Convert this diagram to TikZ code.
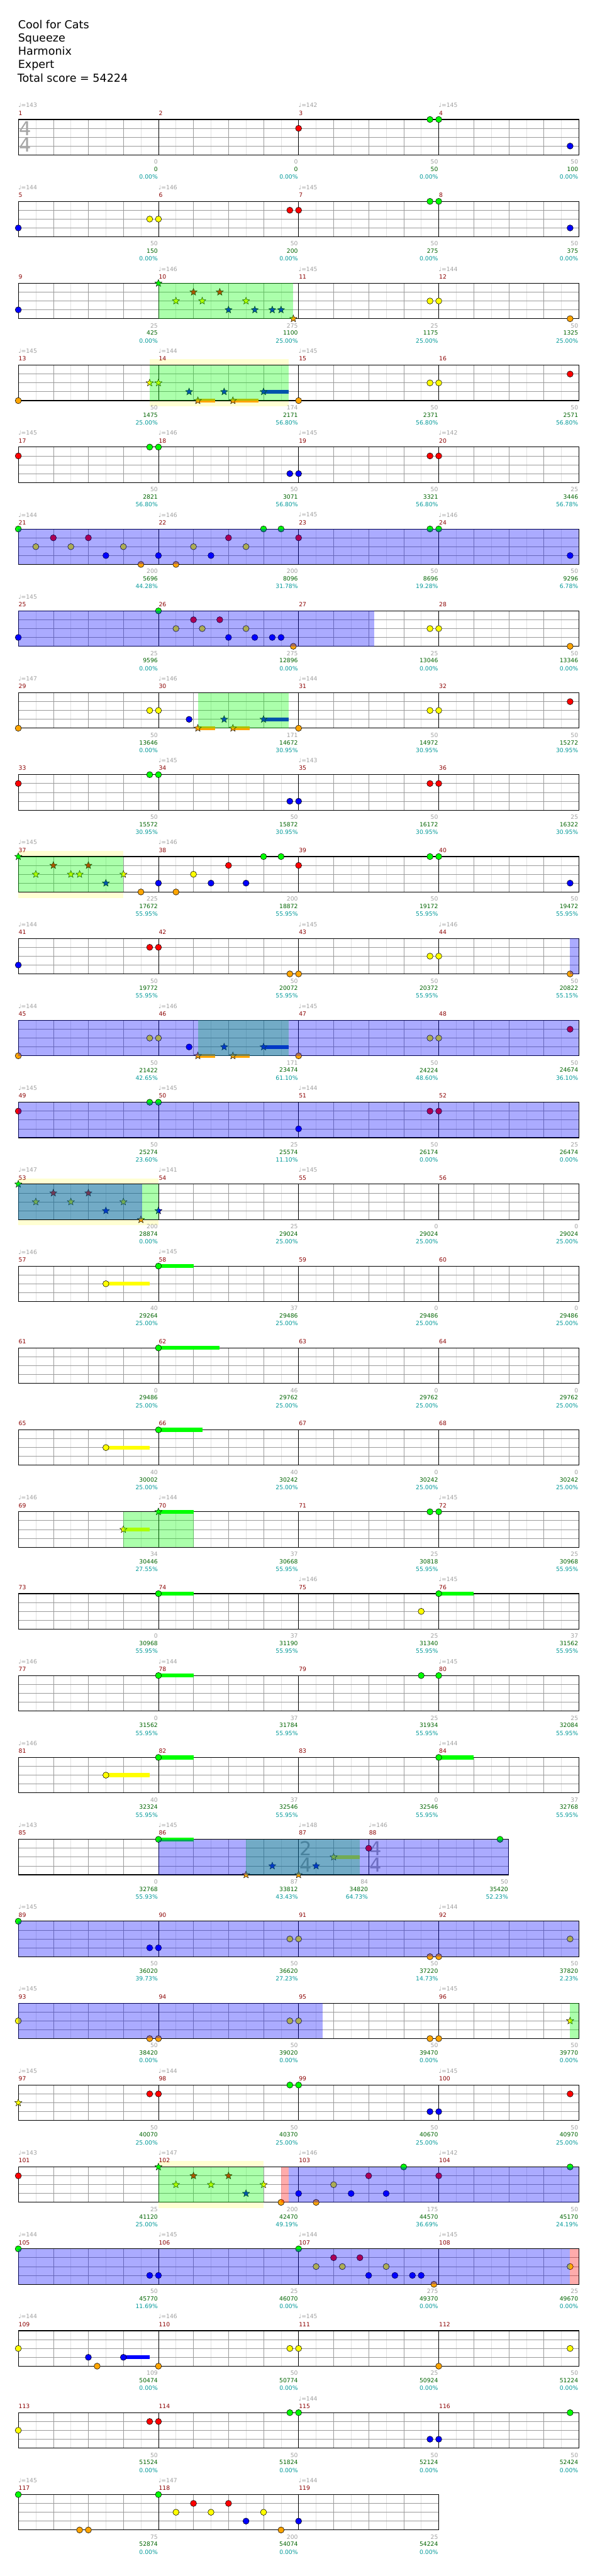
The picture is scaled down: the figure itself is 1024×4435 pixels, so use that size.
\documentclass[tikz,border=0pt]{standalone}
\usepackage{fontspec}
\setmainfont{DejaVu Sans}
\usetikzlibrary{shapes.geometric}
\definecolor{cG}{RGB}{0,255,0}
\definecolor{cR}{RGB}{255,0,0}
\definecolor{cY}{RGB}{255,255,0}
\definecolor{cB}{RGB}{0,0,255}
\definecolor{cO}{RGB}{255,165,0}
\definecolor{gridlt}{RGB}{225,225,225}
\definecolor{griddk}{RGB}{155,155,155}
\definecolor{mnumc}{RGB}{139,0,0}
\definecolor{tempoc}{RGB}{160,160,160}
\definecolor{ptsc}{RGB}{160,160,160}
\definecolor{totc}{RGB}{0,100,0}
\definecolor{pctc}{RGB}{0,153,153}
\definecolor{ybg}{RGB}{255,255,210}
\definecolor{tsc}{RGB}{165,165,165}
\tikzset{
 ntst/.style={draw=black,line width=0.6pt},
 stst/.style={star,star points=5,star point ratio=2.3,minimum size=13pt,inner sep=0pt,draw=black,line width=0.5pt},
 small/.style={font=\fontsize{10}{12}\selectfont,inner sep=0pt},
 hdr/.style={font=\fontsize{19}{22}\selectfont,inner sep=0pt,anchor=base west},
 tsf/.style={font=\fontsize{33}{33}\selectfont,text=tsc,inner sep=0pt},
}
\newcommand\ghN[3]{\draw[ntst,fill=#3] (#1,#2) circle[radius=5.3pt];}
\newcommand\ghS[3]{\node[stst,fill=#3] at (#1,#2) {};}
\newcommand\ghU[4]{\draw[line width=6.8pt,#4] (#1,#3) -- (#2,#3);}
\newcommand\ghGr[2]{\fill[cG,opacity=0.33] (#1,0) rectangle (#2,4);}
\newcommand\ghBl[2]{\fill[cB,opacity=0.33] (#1,0) rectangle (#2,4);}
\newcommand\ghPk[2]{\fill[cR,opacity=0.33] (#1,0) rectangle (#2,4);}
\newcommand\ghYb[2]{\fill[ybg] (#1,-0.656) rectangle (#2,4.656);}
\newcommand\ghStaff[1]{%
 \fill[white] (0,0) rectangle (#1,4);
 \pgfmathtruncatemacro\ghL{#1-1}%
 \foreach \i in {2,6,...,\ghL} \draw[gridlt,line width=0.6pt] (\i,0) -- (\i,4);
 \foreach \i in {4,8,...,\ghL} \draw[griddk,line width=0.6pt] (\i,0) -- (\i,4);
 \foreach \j in {1,2,3} \draw[griddk,line width=0.9pt] (0,\j) -- (#1,\j);
 \draw[black,line width=1.2pt] (0,0) rectangle (#1,4);}
\newcommand\ghM[3]{%
 \draw[black,line width=0.6pt] (#1,0) -- (#1,4);
 \node[small,text=mnumc,anchor=west,xshift=0.5pt] at (#1,-0.72) {#2};
 \if\relax\detokenize{#3}\relax\else
 \node[small,text=tempoc,anchor=west] at (#1,-1.593) {♩=#3};\fi}
\newcommand\ghT[4]{%
 \node[small,text=ptsc,anchor=east,xshift=-1pt] at (#1,4.787) {#2};
 \node[small,text=totc,anchor=east,xshift=-1pt] at (#1,5.62) {#3};
 \node[small,text=pctc,anchor=east,xshift=-1pt] at (#1,6.49) {#4};}
\newcommand\ghTS[3]{\node[tsf] at (#1+0.83,1.05) {#2}; \node[tsf] at (#1+0.83,2.9) {#3};}
\newcommand\ghRow[2]{%
 \pgfmathsetmacro\ghTT{205.7+141*(#1-1)}%
 \begin{scope}[shift={(31.5pt,-\ghTT pt)},x=15.078pt,y=-15.25pt]
 #2
 \end{scope}}
\begin{document}
\begin{tikzpicture}[x=1pt,y=-1pt]
\useasboundingbox (0,0) rectangle (1024,4435);
\fill[white] (0,0) rectangle (1024,4435);
\node[hdr] (h1) at (31,49) {Cool for Cats};
\node[hdr] (h2) at (31,72) {Squeeze};
\node[hdr] (h3) at (31,95) {Harmonix};
\node[hdr] (h4) at (31,118) {Expert};
\node[hdr] (h5) at (30,141) {Total score = 54224};
% row 1
\ghRow{1}{\ghStaff{64}\ghM{0}{1}{143}\ghM{16}{2}{}\ghM{32}{3}{142}\ghM{48}{4}{145}\ghTS{0}{4}{4}
\ghN{32}{1}{cR}\ghN{47}{0}{cG}\ghN{48}{0}{cG}\ghN{63}{3}{cB}
\ghT{16}{0}{0}{0.00\%}\ghT{32}{0}{0}{0.00\%}\ghT{48}{50}{50}{0.00\%}\ghT{64}{50}{100}{0.00\%}}
% row 2
\ghRow{2}{\ghStaff{64}\ghM{0}{5}{144}\ghM{16}{6}{146}\ghM{32}{7}{145}\ghM{48}{8}{}
\ghN{0}{3}{cB}\ghN{15}{2}{cY}\ghN{16}{2}{cY}\ghN{31}{1}{cR}\ghN{32}{1}{cR}\ghN{47}{0}{cG}\ghN{48}{0}{cG}\ghN{63}{3}{cB}
\ghT{16}{50}{150}{0.00\%}\ghT{32}{50}{200}{0.00\%}\ghT{48}{50}{275}{0.00\%}\ghT{64}{50}{375}{0.00\%}}
% row 3
\ghRow{3}{\ghStaff{64}\ghM{0}{9}{}\ghM{16}{10}{146}\ghM{32}{11}{145}\ghM{48}{12}{144}
\ghN{0}{3}{cB}\ghS{16}{0}{cG}\ghS{20}{1}{cR}\ghS{23}{1}{cR}\ghS{18}{2}{cY}\ghS{21}{2}{cY}\ghS{26}{2}{cY}
\ghS{24}{3}{cB}\ghS{27}{3}{cB}\ghS{29}{3}{cB}\ghS{30}{3}{cB}\ghS{31.4}{4}{cO}
\ghN{47}{2}{cY}\ghN{48}{2}{cY}\ghN{63}{4}{cO}
\ghGr{16}{31.4}
\ghT{16}{25}{425}{0.00\%}\ghT{32}{275}{1100}{25.00\%}\ghT{48}{25}{1175}{25.00\%}\ghT{64}{50}{1325}{25.00\%}}
% row 4
\ghRow{4}{\ghYb{15}{30.9}\ghStaff{64}\ghM{0}{13}{145}\ghM{16}{14}{144}\ghM{32}{15}{145}\ghM{48}{16}{}
\ghN{0}{4}{cO}\ghS{15}{2}{cY}\ghS{16}{2}{cY}\ghS{19.5}{3}{cB}\ghS{23.5}{3}{cB}
\ghU{28}{30.9}{3}{cB}\ghS{28}{3}{cB}\ghU{20.5}{22.5}{4}{cO}\ghS{20.5}{4}{cO}\ghU{24.5}{27.4}{4}{cO}\ghS{24.5}{4}{cO}
\ghN{32}{4}{cO}\ghN{47}{2}{cY}\ghN{48}{2}{cY}\ghN{63}{1}{cR}
\ghGr{15}{30.9}
\ghT{16}{50}{1475}{25.00\%}\ghT{32}{174}{2171}{56.80\%}\ghT{48}{50}{2371}{56.80\%}\ghT{64}{50}{2571}{56.80\%}}
% row 5
\ghRow{5}{\ghStaff{64}\ghM{0}{17}{145}\ghM{16}{18}{146}\ghM{32}{19}{145}\ghM{48}{20}{142}
\ghN{0}{1}{cR}\ghN{15}{0}{cG}\ghN{16}{0}{cG}\ghN{31}{3}{cB}\ghN{32}{3}{cB}\ghN{47}{1}{cR}\ghN{48}{1}{cR}
\ghT{16}{50}{2821}{56.80\%}\ghT{32}{50}{3071}{56.80\%}\ghT{48}{50}{3321}{56.80\%}\ghT{64}{25}{3446}{56.78\%}}
% row 6
\ghRow{6}{\ghStaff{64}\ghM{0}{21}{144}\ghM{16}{22}{146}\ghM{32}{23}{145}\ghM{48}{24}{146}
\ghN{0}{0}{cG}\ghN{4}{1}{cR}\ghN{8}{1}{cR}\ghN{24}{1}{cR}\ghN{32}{1}{cR}\ghN{2}{2}{cY}\ghN{6}{2}{cY}\ghN{12}{2}{cY}\ghN{20}{2}{cY}\ghN{26}{2}{cY}
\ghN{10}{3}{cB}\ghN{16}{3}{cB}\ghN{22}{3}{cB}\ghN{14}{4}{cO}\ghN{18}{4}{cO}\ghN{28}{0}{cG}\ghN{30}{0}{cG}\ghN{47}{0}{cG}\ghN{48}{0}{cG}\ghN{63}{3}{cB}
\ghBl{0}{64}
\ghT{16}{200}{5696}{44.28\%}\ghT{32}{200}{8096}{31.78\%}\ghT{48}{50}{8696}{19.28\%}\ghT{64}{50}{9296}{6.78\%}}
% row 7
\ghRow{7}{\ghStaff{64}\ghM{0}{25}{145}\ghM{16}{26}{}\ghM{32}{27}{}\ghM{48}{28}{}
\ghN{0}{3}{cB}\ghN{16}{0}{cG}\ghN{20}{1}{cR}\ghN{23}{1}{cR}\ghN{18}{2}{cY}\ghN{21}{2}{cY}\ghN{26}{2}{cY}
\ghN{24}{3}{cB}\ghN{27}{3}{cB}\ghN{29}{3}{cB}\ghN{30}{3}{cB}\ghN{31.4}{4}{cO}\ghN{47}{2}{cY}\ghN{48}{2}{cY}\ghN{63}{4}{cO}
\ghBl{0}{40.66}
\ghT{16}{25}{9596}{0.00\%}\ghT{32}{275}{12896}{0.00\%}\ghT{48}{25}{13046}{0.00\%}\ghT{64}{50}{13346}{0.00\%}}
% row 8
\ghRow{8}{\ghStaff{64}\ghM{0}{29}{147}\ghM{16}{30}{146}\ghM{32}{31}{144}\ghM{48}{32}{}
\ghN{0}{4}{cO}\ghN{15}{2}{cY}\ghN{16}{2}{cY}\ghN{19.5}{3}{cB}\ghS{23.5}{3}{cB}
\ghU{28}{30.9}{3}{cB}\ghS{28}{3}{cB}\ghU{20.5}{22.5}{4}{cO}\ghS{20.5}{4}{cO}\ghU{24.5}{26.43}{4}{cO}\ghS{24.5}{4}{cO}
\ghN{32}{4}{cO}\ghN{47}{2}{cY}\ghN{48}{2}{cY}\ghN{63}{1}{cR}
\ghGr{20.5}{30.9}
\ghT{16}{50}{13646}{0.00\%}\ghT{32}{171}{14672}{30.95\%}\ghT{48}{50}{14972}{30.95\%}\ghT{64}{50}{15272}{30.95\%}}
% row 9
\ghRow{9}{\ghStaff{64}\ghM{0}{33}{}\ghM{16}{34}{145}\ghM{32}{35}{143}\ghM{48}{36}{}
\ghN{0}{1}{cR}\ghN{15}{0}{cG}\ghN{16}{0}{cG}\ghN{31}{3}{cB}\ghN{32}{3}{cB}\ghN{47}{1}{cR}\ghN{48}{1}{cR}
\ghT{16}{50}{15572}{30.95\%}\ghT{32}{50}{15872}{30.95\%}\ghT{48}{50}{16172}{30.95\%}\ghT{64}{25}{16322}{30.95\%}}
% row 10
\ghRow{10}{\ghYb{0}{12}\ghStaff{64}\ghM{0}{37}{145}\ghM{16}{38}{146}\ghM{32}{39}{}\ghM{48}{40}{}
\ghS{0}{0}{cG}\ghS{4}{1}{cR}\ghS{8}{1}{cR}\ghS{2}{2}{cY}\ghS{6}{2}{cY}\ghS{7}{2}{cY}\ghS{12}{2}{cY}\ghS{10}{3}{cB}
\ghN{14}{4}{cO}\ghN{18}{4}{cO}\ghN{16}{3}{cB}\ghN{22}{3}{cB}\ghN{26}{3}{cB}\ghN{20}{2}{cY}\ghN{24}{1}{cR}\ghN{32}{1}{cR}
\ghN{28}{0}{cG}\ghN{30}{0}{cG}\ghN{47}{0}{cG}\ghN{48}{0}{cG}\ghN{63}{3}{cB}
\ghGr{0}{12}
\ghT{16}{225}{17672}{55.95\%}\ghT{32}{200}{18872}{55.95\%}\ghT{48}{50}{19172}{55.95\%}\ghT{64}{50}{19472}{55.95\%}}
% row 11
\ghRow{11}{\ghStaff{64}\ghM{0}{41}{144}\ghM{16}{42}{}\ghM{32}{43}{145}\ghM{48}{44}{146}
\ghN{0}{3}{cB}\ghN{15}{1}{cR}\ghN{16}{1}{cR}\ghN{31}{4}{cO}\ghN{32}{4}{cO}\ghN{47}{2}{cY}\ghN{48}{2}{cY}\ghN{63}{4}{cO}
\ghBl{63}{64}
\ghT{16}{50}{19772}{55.95\%}\ghT{32}{50}{20072}{55.95\%}\ghT{48}{50}{20372}{55.95\%}\ghT{64}{50}{20822}{55.15\%}}
% row 12
\ghRow{12}{\ghStaff{64}\ghM{0}{45}{144}\ghM{16}{46}{146}\ghM{32}{47}{145}\ghM{48}{48}{}
\ghN{0}{4}{cO}\ghN{15}{2}{cY}\ghN{16}{2}{cY}\ghN{19.5}{3}{cB}\ghS{23.5}{3}{cB}
\ghU{28}{30.9}{3}{cB}\ghS{28}{3}{cB}\ghU{20.5}{22.5}{4}{cO}\ghS{20.5}{4}{cO}\ghU{24.5}{26.43}{4}{cO}\ghS{24.5}{4}{cO}
\ghN{32}{4}{cO}\ghN{47}{2}{cY}\ghN{48}{2}{cY}\ghN{63}{1}{cR}
\ghGr{20.5}{30.9}\ghBl{0}{64}
\ghT{16}{50}{21422}{42.65\%}\ghT{32}{171}{23474}{61.10\%}\ghT{48}{50}{24224}{48.60\%}\ghT{64}{50}{24674}{36.10\%}}
% row 13
\ghRow{13}{\ghStaff{64}\ghM{0}{49}{145}\ghM{16}{50}{145}\ghM{32}{51}{144}\ghM{48}{52}{}
\ghN{0}{1}{cR}\ghN{15}{0}{cG}\ghN{16}{0}{cG}\ghN{32}{3}{cB}\ghN{47}{1}{cR}\ghN{48}{1}{cR}
\ghBl{0}{64}
\ghT{16}{50}{25274}{23.60\%}\ghT{32}{25}{25574}{11.10\%}\ghT{48}{50}{26174}{0.00\%}\ghT{64}{25}{26474}{0.00\%}}
% row 14
\ghRow{14}{\ghYb{0}{16}\ghStaff{64}\ghM{0}{53}{147}\ghM{16}{54}{141}\ghM{32}{55}{145}\ghM{48}{56}{}
\ghS{0}{0}{cG}\ghS{4}{1}{cR}\ghS{8}{1}{cR}\ghS{2}{2}{cY}\ghS{6}{2}{cY}\ghS{12}{2}{cY}\ghS{10}{3}{cB}\ghS{16}{3}{cB}\ghS{14}{4}{cO}
\ghGr{0}{16}\ghBl{0}{14.15}
\ghT{16}{200}{28874}{0.00\%}\ghT{32}{25}{29024}{25.00\%}\ghT{48}{0}{29024}{25.00\%}\ghT{64}{0}{29024}{25.00\%}}
% row 15
\ghRow{15}{\ghStaff{64}\ghM{0}{57}{146}\ghM{16}{58}{145}\ghM{32}{59}{}\ghM{48}{60}{}
\ghU{10}{15}{2}{cY}\ghN{10}{2}{cY}\ghU{16}{20}{0}{cG}\ghN{16}{0}{cG}
\ghT{16}{40}{29264}{25.00\%}\ghT{32}{37}{29486}{25.00\%}\ghT{48}{0}{29486}{25.00\%}\ghT{64}{0}{29486}{25.00\%}}
% row 16
\ghRow{16}{\ghStaff{64}\ghM{0}{61}{}\ghM{16}{62}{}\ghM{32}{63}{}\ghM{48}{64}{}
\ghU{16}{23}{0}{cG}\ghN{16}{0}{cG}
\ghT{16}{0}{29486}{25.00\%}\ghT{32}{46}{29762}{25.00\%}\ghT{48}{0}{29762}{25.00\%}\ghT{64}{0}{29762}{25.00\%}}
% row 17
\ghRow{17}{\ghStaff{64}\ghM{0}{65}{}\ghM{16}{66}{}\ghM{32}{67}{}\ghM{48}{68}{}
\ghU{10}{15}{2}{cY}\ghN{10}{2}{cY}\ghU{16}{21}{0}{cG}\ghN{16}{0}{cG}
\ghT{16}{40}{30002}{25.00\%}\ghT{32}{40}{30242}{25.00\%}\ghT{48}{0}{30242}{25.00\%}\ghT{64}{0}{30242}{25.00\%}}
% row 18
\ghRow{18}{\ghStaff{64}\ghM{0}{69}{146}\ghM{16}{70}{144}\ghM{32}{71}{}\ghM{48}{72}{145}
\ghU{12}{15}{2}{cY}\ghS{12}{2}{cY}\ghU{16}{20}{0}{cG}\ghS{16}{0}{cG}\ghN{47}{0}{cG}\ghN{48}{0}{cG}
\ghGr{12}{20}
\ghT{16}{34}{30446}{27.55\%}\ghT{32}{37}{30668}{55.95\%}\ghT{48}{25}{30818}{55.95\%}\ghT{64}{25}{30968}{55.95\%}}
% row 19
\ghRow{19}{\ghStaff{64}\ghM{0}{73}{}\ghM{16}{74}{}\ghM{32}{75}{146}\ghM{48}{76}{145}
\ghU{16}{20}{0}{cG}\ghN{16}{0}{cG}\ghN{46}{2}{cY}\ghU{48}{52}{0}{cG}\ghN{48}{0}{cG}
\ghT{16}{0}{30968}{55.95\%}\ghT{32}{37}{31190}{55.95\%}\ghT{48}{25}{31340}{55.95\%}\ghT{64}{37}{31562}{55.95\%}}
% row 20
\ghRow{20}{\ghStaff{64}\ghM{0}{77}{146}\ghM{16}{78}{144}\ghM{32}{79}{}\ghM{48}{80}{145}
\ghU{16}{20}{0}{cG}\ghN{16}{0}{cG}\ghN{46}{0}{cG}\ghN{48}{0}{cG}
\ghT{16}{0}{31562}{55.95\%}\ghT{32}{37}{31784}{55.95\%}\ghT{48}{25}{31934}{55.95\%}\ghT{64}{25}{32084}{55.95\%}}
% row 21
\ghRow{21}{\ghStaff{64}\ghM{0}{81}{146}\ghM{16}{82}{}\ghM{32}{83}{}\ghM{48}{84}{144}
\ghU{10}{15}{2}{cY}\ghN{10}{2}{cY}\ghU{16}{20}{0}{cG}\ghN{16}{0}{cG}\ghU{48}{52}{0}{cG}\ghN{48}{0}{cG}
\ghT{16}{40}{32324}{55.95\%}\ghT{32}{37}{32546}{55.95\%}\ghT{48}{0}{32546}{55.95\%}\ghT{64}{37}{32768}{55.95\%}}
% row 22
\ghRow{22}{\ghStaff{56}\ghM{0}{85}{143}\ghM{16}{86}{145}\ghM{32}{87}{148}\ghM{40}{88}{146}
\ghTS{32}{2}{4}\ghTS{40}{4}{4}
\ghU{16}{20}{0}{cG}\ghN{16}{0}{cG}\ghS{26}{4}{cO}\ghS{32}{4}{cO}\ghS{29}{3}{cB}\ghS{34}{3}{cB}
\ghU{36}{39}{2}{cY}\ghS{36}{2}{cY}\ghN{40}{1}{cR}\ghN{55}{0}{cG}
\ghGr{26}{39}\ghBl{16}{56}
\ghT{16}{0}{32768}{55.93\%}\ghT{32}{87}{33812}{43.43\%}\ghT{40}{84}{34820}{64.73\%}\ghT{56}{50}{35420}{52.23\%}}
% row 23
\ghRow{23}{\ghStaff{64}\ghM{0}{89}{145}\ghM{16}{90}{}\ghM{32}{91}{}\ghM{48}{92}{144}
\ghN{0}{0}{cG}\ghN{15}{3}{cB}\ghN{16}{3}{cB}\ghN{31}{2}{cY}\ghN{32}{2}{cY}\ghN{47}{4}{cO}\ghN{48}{4}{cO}\ghN{63}{2}{cY}
\ghBl{0}{64}
\ghT{16}{50}{36020}{39.73\%}\ghT{32}{50}{36620}{27.23\%}\ghT{48}{50}{37220}{14.73\%}\ghT{64}{50}{37820}{2.23\%}}
% row 24
\ghRow{24}{\ghStaff{64}\ghM{0}{93}{145}\ghM{16}{94}{}\ghM{32}{95}{}\ghM{48}{96}{145}
\ghN{0}{2}{cY}\ghN{15}{4}{cO}\ghN{16}{4}{cO}\ghN{31}{2}{cY}\ghN{32}{2}{cY}\ghN{47}{4}{cO}\ghN{48}{4}{cO}\ghS{63}{2}{cY}
\ghBl{0}{34.78}\ghGr{63}{64}
\ghT{16}{50}{38420}{0.00\%}\ghT{32}{50}{39020}{0.00\%}\ghT{48}{50}{39470}{0.00\%}\ghT{64}{50}{39770}{0.00\%}}
% row 25
\ghRow{25}{\ghStaff{64}\ghM{0}{97}{145}\ghM{16}{98}{144}\ghM{32}{99}{}\ghM{48}{100}{145}
\ghS{0}{2}{cY}\ghN{15}{1}{cR}\ghN{16}{1}{cR}\ghN{31}{0}{cG}\ghN{32}{0}{cG}\ghN{47}{3}{cB}\ghN{48}{3}{cB}\ghN{63}{1}{cR}
\ghT{16}{50}{40070}{25.00\%}\ghT{32}{50}{40370}{25.00\%}\ghT{48}{50}{40670}{25.00\%}\ghT{64}{50}{40970}{25.00\%}}
% row 26
\ghRow{26}{\ghYb{16}{28}\ghStaff{64}\ghM{0}{101}{143}\ghM{16}{102}{147}\ghM{32}{103}{146}\ghM{48}{104}{142}
\ghN{0}{1}{cR}\ghS{16}{0}{cG}\ghS{20}{1}{cR}\ghS{24}{1}{cR}\ghS{18}{2}{cY}\ghS{22}{2}{cY}\ghS{28}{2}{cY}\ghS{26}{3}{cB}
\ghN{30}{4}{cO}\ghN{32}{3}{cB}\ghN{38}{3}{cB}\ghN{42}{3}{cB}\ghN{34}{4}{cO}\ghN{36}{2}{cY}\ghN{40}{1}{cR}\ghN{48}{1}{cR}\ghN{44}{0}{cG}\ghN{63}{0}{cG}
\ghGr{16}{28}\ghPk{30}{30.9}\ghBl{30.9}{64}
\ghT{16}{25}{41120}{25.00\%}\ghT{32}{200}{42470}{49.19\%}\ghT{48}{175}{44570}{36.69\%}\ghT{64}{50}{45170}{24.19\%}}
% row 27
\ghRow{27}{\ghStaff{64}\ghM{0}{105}{144}\ghM{16}{106}{145}\ghM{32}{107}{144}\ghM{48}{108}{145}
\ghN{0}{0}{cG}\ghN{15}{3}{cB}\ghN{16}{3}{cB}\ghN{32}{0}{cG}\ghN{36}{1}{cR}\ghN{39}{1}{cR}\ghN{34}{2}{cY}\ghN{37}{2}{cY}\ghN{42}{2}{cY}
\ghN{40}{3}{cB}\ghN{43}{3}{cB}\ghN{45}{3}{cB}\ghN{46}{3}{cB}\ghN{47.45}{4}{cO}\ghN{63}{2}{cY}
\ghBl{0}{63}\ghPk{63}{64}
\ghT{16}{50}{45770}{11.69\%}\ghT{32}{25}{46070}{0.00\%}\ghT{48}{275}{49370}{0.00\%}\ghT{64}{25}{49670}{0.00\%}}
% row 28
\ghRow{28}{\ghStaff{64}\ghM{0}{109}{144}\ghM{16}{110}{146}\ghM{32}{111}{145}\ghM{48}{112}{}
\ghN{0}{2}{cY}\ghN{8}{3}{cB}\ghN{9}{4}{cO}\ghU{12}{15}{3}{cB}\ghN{12}{3}{cB}\ghN{16}{4}{cO}\ghN{31}{2}{cY}\ghN{32}{2}{cY}\ghN{48}{4}{cO}\ghN{63}{2}{cY}
\ghT{16}{109}{50474}{0.00\%}\ghT{32}{50}{50774}{0.00\%}\ghT{48}{25}{50924}{0.00\%}\ghT{64}{50}{51224}{0.00\%}}
% row 29
\ghRow{29}{\ghStaff{64}\ghM{0}{113}{}\ghM{16}{114}{}\ghM{32}{115}{144}\ghM{48}{116}{}
\ghN{0}{2}{cY}\ghN{15}{1}{cR}\ghN{16}{1}{cR}\ghN{31}{0}{cG}\ghN{32}{0}{cG}\ghN{47}{3}{cB}\ghN{48}{3}{cB}\ghN{63}{0}{cG}
\ghT{16}{50}{51524}{0.00\%}\ghT{32}{50}{51824}{0.00\%}\ghT{48}{50}{52124}{0.00\%}\ghT{64}{50}{52424}{0.00\%}}
% row 30
\ghRow{30}{\ghStaff{48}\ghM{0}{117}{145}\ghM{16}{118}{147}\ghM{32}{119}{144}
\ghN{0}{0}{cG}\ghN{7}{4}{cO}\ghN{8}{4}{cO}\ghN{16}{0}{cG}\ghN{20}{1}{cR}\ghN{24}{1}{cR}\ghN{18}{2}{cY}\ghN{22}{2}{cY}\ghN{28}{2}{cY}
\ghN{26}{3}{cB}\ghN{32}{3}{cB}\ghN{30}{4}{cO}
\ghT{16}{75}{52874}{0.00\%}\ghT{32}{200}{54074}{0.00\%}\ghT{48}{25}{54224}{0.00\%}}
\end{tikzpicture}
\end{document}
